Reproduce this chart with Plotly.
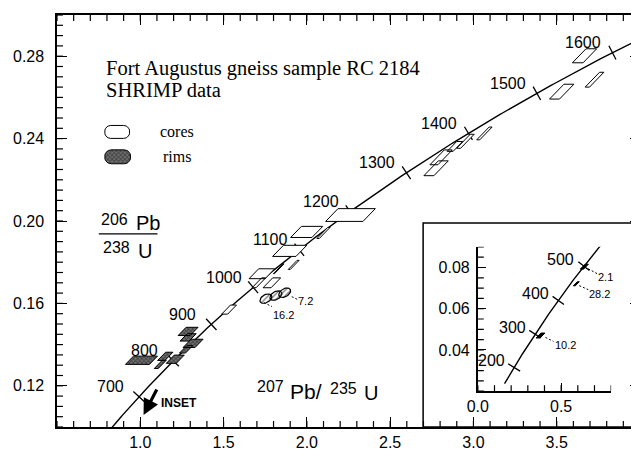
import numpy as np
import plotly.graph_objects as go

# ---------------- data ----------------
L238 = 1.55125e-4   # decay constant 238U (1/Ma)
L235 = 9.8485e-4    # decay constant 235U (1/Ma)

main_ages = [700, 800, 900, 1000, 1100, 1200, 1300, 1400, 1500, 1600]
inset_ages = [200, 300, 400, 500]

# cores (207Pb/235U, 206Pb/238U, half-widths)
core_x = [3.667, 3.727, 3.530, 3.066, 2.952, 2.889, 2.806, 2.776, 2.262, 1.999,
          2.100, 1.897, 1.831, 1.921, 1.730, 1.712, 1.790, 1.533]
core_y = [0.2802, 0.2686, 0.2628, 0.2425, 0.2387, 0.2362, 0.2309, 0.2256, 0.2029, 0.1947,
          0.1942, 0.1855, 0.1768, 0.1787, 0.1744, 0.1700, 0.1700, 0.1570]
core_dx = [0.032, 0.013, 0.030, 0.009, 0.012, 0.018, 0.024, 0.030, 0.112, 0.064,
           0.007, 0.070, 0.003, 0.006, 0.048, 0.012, 0.024, 0.018]
core_dy = [0.0034, 0.0036, 0.0036, 0.0031, 0.0034, 0.0024, 0.0036, 0.0036, 0.0031, 0.0027,
           0.0027, 0.0027, 0.0024, 0.0022, 0.0024, 0.0024, 0.0024, 0.0022]

# rims
rim_x = [1.007, 1.150, 1.120, 1.210, 1.287, 1.287, 1.317, 1.275]
rim_y = [0.1324, 0.1343, 0.1304, 0.1329, 0.1464, 0.1435, 0.1406, 0.1377]
rim_dx = [0.072, 0.022, 0.012, 0.030, 0.036, 0.027, 0.036, 0.018]
rim_dy = [0.0020, 0.0020, 0.0020, 0.0020, 0.0020, 0.0018, 0.0020, 0.0018]

# hatched analyses (7.2, 16.2)
hat_x = [1.754, 1.814, 1.867]
hat_y = [0.1623, 0.1638, 0.1652]

# inset analyses
ins_x = [0.639, 0.591, 0.376]
ins_y = [0.0804, 0.0721, 0.0470]
ins_dx = [0.010, 0.006, 0.012]
ins_dy = [0.0012, 0.0010, 0.0012]
ins_labels = ["2.1", "28.2", "10.2"]

x_tickvals = [1.0, 1.5, 2.0, 2.5, 3.0, 3.5]
y_tickvals = [0.12, 0.16, 0.20, 0.24, 0.28]
x2_tickvals = [0.0, 0.5]
y2_tickvals = [0.04, 0.06, 0.08]

# ---------------- layout geometry (reference pixel frame) ----------------
OFF = 8                      # page body margin
W, H = 639, 454
PX0, PX1, PY0, PY1 = 55, 641, 13, 427      # main plot area in page pixels
ML, MT = PX0 - OFF, PY0 - OFF
MR = W - (PX1 - OFF)
MB = H - (PY1 - OFF)
PW, PH = PX1 - PX0, PY1 - PY0
XR = [0.5, 4.0]
YR = [0.1, 0.3]
SX = PW / (XR[1] - XR[0])
SY = PH / (YR[1] - YR[0])

# inset plot area in page pixels
IX0, IX1, IY0, IY1 = 478, 612, 246, 391
X2R = [0.0, 0.8]
Y2R = [0.02, 0.09]
SX2 = (IX1 - IX0) / (X2R[1] - X2R[0])
SY2 = (IY1 - IY0) / (Y2R[1] - Y2R[0])
IXD = [(IX0 - PX0) / PW, (IX1 - PX0) / PW]
IYD = [(PY1 - IY1) / PH, (PY1 - IY0) / PH]

SANS = "Liberation Sans, Arial, sans-serif"
SERIF = "Liberation Serif, Times New Roman, serif"

MINOR_LEN = 6  # px


def P(px, py):
    return (px - PX0) / PW, (PY1 - py) / PH


def px2data(px, py):
    return XR[0] + (px - PX0) / SX, YR[1] - (py - PY0) / SY


def boxes(xs, ys, dxs, dys, slant):
    bx, by = [], []
    for x, y, dx, dy in zip(xs, ys, dxs, dys):
        s = slant * dy
        bx += [x - dx - s, x + dx - s, x + dx + s, x - dx + s, x - dx - s, None]
        by += [y - dy, y - dy, y + dy, y + dy, y - dy, None]
    return bx, by


def ellipses(xs, ys, a, b, ang_deg, sx, sy):
    th = np.linspace(0, 2 * np.pi, 40)
    c, s = np.cos(np.radians(ang_deg)), np.sin(np.radians(ang_deg))
    ex, ey = [], []
    for x, y in zip(xs, ys):
        u = a * np.cos(th) * c - b * np.sin(th) * s
        v = a * np.cos(th) * s + b * np.sin(th) * c
        ex += list(x + u / sx) + [None]
        ey += list(y + v / sy) + [None]
    return ex, ey


def rounded(cx, cy, w, h, r):
    pts = []
    for (qx, qy, a0) in [(cx + w / 2 - r, cy - h / 2 + r, -90), (cx + w / 2 - r, cy + h / 2 - r, 0),
                         (cx - w / 2 + r, cy + h / 2 - r, 90), (cx - w / 2 + r, cy - h / 2 + r, 180)]:
        for a in np.linspace(a0, a0 + 90, 8):
            pts.append((qx + r * np.cos(np.radians(a)), qy + r * np.sin(np.radians(a))))
    pts.append(pts[0])
    d = [px2data(p[0], p[1]) for p in pts]
    return [p[0] for p in d], [p[1] for p in d]


def minor_tick_shapes(xr, yr, sx, sy, xstep, ystep, sides, xref, yref):
    out = []
    lx, ly = MINOR_LEN / sx, MINOR_LEN / sy
    ln = dict(color="black", width=1.2)
    for v in np.arange(xr[0], xr[1] + 1e-9, xstep):
        v = float(round(v, 6))
        if "b" in sides:
            out.append(dict(type="line", xref=xref, yref=yref, x0=v, x1=v, y0=yr[0], y1=yr[0] + ly, line=ln))
        if "t" in sides:
            out.append(dict(type="line", xref=xref, yref=yref, x0=v, x1=v, y0=yr[1], y1=yr[1] - ly, line=ln))
    for v in np.arange(yr[0], yr[1] + 1e-9, ystep):
        v = float(round(v, 6))
        if "l" in sides:
            out.append(dict(type="line", xref=xref, yref=yref, x0=xr[0], x1=xr[0] + lx, y0=v, y1=v, line=ln))
        if "r" in sides:
            out.append(dict(type="line", xref=xref, yref=yref, x0=xr[1], x1=xr[1] - lx, y0=v, y1=v, line=ln))
    return out


RIM_PATTERN = dict(shape="x", fgcolor="#111", bgcolor="#707070", size=3, solidity=0.5)

fig = go.Figure()

# concordia (main)
t_main = np.linspace(560, 1720, 500)
fig.add_trace(go.Scatter(x=np.expm1(L235 * t_main), y=np.expm1(L238 * t_main), mode="lines",
                         line=dict(color="black", width=1.4), hoverinfo="skip"))
ta = np.array(main_ages, float)
cxa, cya = np.expm1(L235 * ta), np.expm1(L238 * ta)
ang = np.degrees(np.arctan2(L238 * np.exp(L238 * ta) * SY, L235 * np.exp(L235 * ta) * SX))
fig.add_trace(go.Scatter(x=cxa, y=cya, mode="markers", hoverinfo="skip",
                         marker=dict(symbol="line-ns", size=11, angle=list(-ang),
                                     line=dict(color="black", width=1.3))))

# cores
bx, by = boxes(core_x, core_y, core_dx, core_dy, 12.0)
fig.add_trace(go.Scatter(x=bx, y=by, mode="lines", fill="toself", fillcolor="white",
                         line=dict(color="black", width=1), hoverinfo="skip"))
# rims
rx, ry = boxes(rim_x, rim_y, rim_dx, rim_dy, 12.0)
fig.add_trace(go.Scatter(x=rx, y=ry, mode="lines", fill="toself", fillcolor="#444",
                         fillpattern=RIM_PATTERN,
                         line=dict(color="black", width=1), hoverinfo="skip"))
# hatched analyses
hx, hy = ellipses(hat_x, hat_y, 6.5, 4.0, 30, SX, SY)
fig.add_trace(go.Scatter(x=hx, y=hy, mode="lines", fill="toself", fillcolor="white",
                         fillpattern=dict(shape="/", fgcolor="black", bgcolor="white", size=4, solidity=0.35),
                         line=dict(color="black", width=1.2), hoverinfo="skip"))

# legend symbols
lx, ly = rounded(115.5, 130.5, 25, 13, 6)
fig.add_trace(go.Scatter(x=lx, y=ly, mode="lines", fill="toself", fillcolor="white",
                         line=dict(color="black", width=1), hoverinfo="skip"))
lx, ly = rounded(116, 155.5, 26, 14, 6.5)
fig.add_trace(go.Scatter(x=lx, y=ly, mode="lines", fill="toself", fillcolor="#444",
                         fillpattern=RIM_PATTERN,
                         line=dict(color="black", width=1), hoverinfo="skip"))

# inset concordia
t_in = np.linspace(151, 580, 300)
fig.add_trace(go.Scatter(x=np.expm1(L235 * t_in), y=np.expm1(L238 * t_in), mode="lines",
                         xaxis="x2", yaxis="y2", line=dict(color="black", width=1.4), hoverinfo="skip"))
ti = np.array(inset_ages, float)
ixa, iya = np.expm1(L235 * ti), np.expm1(L238 * ti)
ang2 = np.degrees(np.arctan2(L238 * np.exp(L238 * ti) * SY2, L235 * np.exp(L235 * ti) * SX2))
fig.add_trace(go.Scatter(x=ixa, y=iya, mode="markers", xaxis="x2", yaxis="y2", hoverinfo="skip",
                         marker=dict(symbol="line-ns", size=10, angle=list(-ang2),
                                     line=dict(color="black", width=1.3))))
ibx, iby = boxes(ins_x, ins_y, ins_dx, ins_dy, 12.0)
fig.add_trace(go.Scatter(x=ibx, y=iby, mode="lines", fill="toself", fillcolor="black",
                         xaxis="x2", yaxis="y2", line=dict(color="black", width=1), hoverinfo="skip"))

# ---------------- annotations ----------------
ann = []
for t, x, y in zip(main_ages, cxa, cya):
    ann.append(dict(x=x, y=y, xref="x", yref="y", text=str(t), showarrow=False, xshift=-29, yshift=10,
                    font=dict(family=SANS, size=16, color="black")))
for t, x, y in zip(inset_ages, ixa, iya):
    ann.append(dict(x=x, y=y, xref="x2", yref="y2", text=str(t), showarrow=False, xshift=-23, yshift=7,
                    font=dict(family=SANS, size=16, color="black")))

texts = [
    ("Fort Augustus gneiss sample RC 2184", 102, 67, 20.5, SERIF, "left"),
    ("SHRIMP data", 102, 88, 20.5, SERIF, "left"),
    ("cores", 157, 130, 16, SERIF, "left"),
    ("rims", 160, 155, 16, SERIF, "left"),
    ("206", 97, 218, 16, SANS, "left"),
    ("Pb", 132, 222, 20, SANS, "left"),
    ("238", 99, 247, 16, SANS, "left"),
    ("U", 134, 250, 20, SANS, "left"),
    ("207", 254, 386, 16, SANS, "left"),
    ("Pb/", 287, 391, 21, SANS, "left"),
    ("235", 327, 388, 16, SANS, "left"),
    ("U", 362, 393, 20, SANS, "left"),
    ("7.2", 305, 300, 11, SANS, "center"),
    ("16.2", 283, 314, 11, SANS, "center"),
    ("2.1", 606, 276, 11, SANS, "center"),
    ("28.2", 600, 293, 11, SANS, "center"),
    ("10.2", 566, 345, 11, SANS, "center"),
    ("<b>INSET</b>", 178, 403, 12, SANS, "center"),
]
for txt, px, py, sz, fam, anc in texts:
    xp, yp = P(px, py)
    ann.append(dict(x=xp, y=yp, xref="paper", yref="paper", text=txt, showarrow=False,
                    xanchor=anc, yanchor="middle", font=dict(family=fam, size=sz, color="black")))

hx0, hy0 = px2data(142, 415)
ann.append(dict(x=hx0, y=hy0, xref="x", yref="y", ax=14, ay=-27, text="", showarrow=True,
                arrowhead=2, arrowsize=1, arrowwidth=3.2, arrowcolor="black"))

shapes = []
x0, y1 = P(423, 222)
shapes.append(dict(type="rect", xref="paper", yref="paper", x0=x0, x1=1.0, y0=0, y1=y1,
                   line=dict(color="black", width=1.5), fillcolor="white", layer="below"))
a, b = P(97, 233)
c, d = P(156, 233)
shapes.append(dict(type="line", xref="paper", yref="paper", x0=a, y0=b, x1=c, y1=d,
                   line=dict(color="black", width=1.2)))
for (p0, p1) in [((291, 296), (297, 299)), ((263, 302), (271, 306)),
                 ((589, 268), (598, 273)), ((580, 285), (589, 289)), ((546, 337), (554, 341))]:
    a, b = P(*p0)
    c, d = P(*p1)
    shapes.append(dict(type="line", xref="paper", yref="paper", x0=a, y0=b, x1=c, y1=d,
                       line=dict(color="black", width=1, dash="2px,2px")))
shapes += minor_tick_shapes(XR, YR, SX, SY, 0.1, 0.005, "btlr", "x", "y")
shapes += minor_tick_shapes(X2R, Y2R, SX2, SY2, 0.1, 0.005, "bl", "x2", "y2")

tickfont = dict(family=SANS, size=16, color="black")
common = dict(showgrid=False, zeroline=False, ticks="inside", tickcolor="black", tickwidth=1.2,
              showline=True, linecolor="black", tickfont=tickfont)

fig.update_layout(
    width=W, height=H, margin=dict(l=ML, r=MR, t=MT, b=MB, pad=0),
    paper_bgcolor="white", plot_bgcolor="white", showlegend=False,
    annotations=ann, shapes=shapes,
    xaxis=dict(range=XR, tickvals=x_tickvals, ticktext=[f"{v:.1f}" for v in x_tickvals],
               ticklen=10, linewidth=2, mirror="ticks", **common),
    yaxis=dict(range=YR, tickvals=y_tickvals, ticktext=[f"{v:.2f}\u00a0\u2009" for v in y_tickvals],
               ticklen=10, linewidth=2, mirror="ticks", **common),
    xaxis2=dict(domain=IXD, anchor="y2", range=X2R,
                tickvals=x2_tickvals, ticktext=[f"{v:.1f}" for v in x2_tickvals], ticklen=8, linewidth=1.5,
                **common),
    yaxis2=dict(domain=IYD, anchor="x2", range=Y2R,
                tickvals=y2_tickvals, ticktext=[f"{v:.2f}\u2009" for v in y2_tickvals], ticklen=8,
                linewidth=1.5, **common),
)

fig.write_html("out.html")
